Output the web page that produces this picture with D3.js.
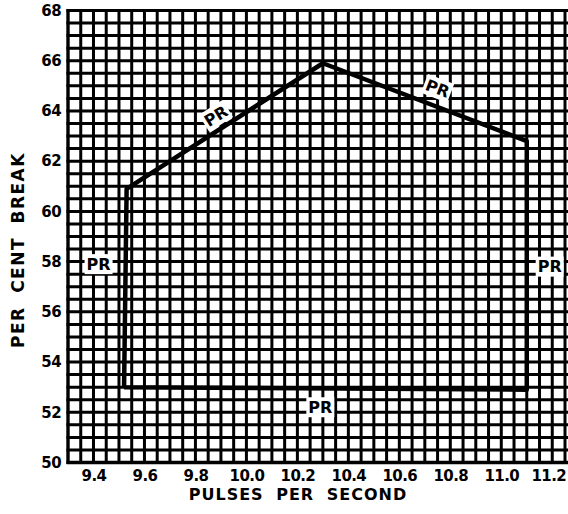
<!DOCTYPE html>
<html>
<head>
<meta charset="utf-8">
<script src="https://cdn.jsdelivr.net/npm/d3@7"></script>
<style>
  body { margin: 0; background: #fff; }
  svg { display: block; }
  text { font-family: "DejaVu Sans", sans-serif; font-weight: bold; fill: #000; }
</style>
</head>
<body>
<script>
// chart size
var width = 568, height = 514;

// data
var xTicks = [9.4, 9.6, 9.8, 10.0, 10.2, 10.4, 10.6, 10.8, 11.0, 11.2];
var xTickLabels = ["9.4", "9.6", "9.8", "10.0", "10.2", "10.4", "10.6", "10.8", "11.0", "11.2"];
var yTicks = [50, 52, 54, 56, 58, 60, 62, 64, 66, 68];

// outline of the PR region (pulses per second, per cent break)
var prX = [9.52, 9.53, 10.30, 11.10, 11.10, 9.52];
var prY = [53.0, 60.9, 65.9, 62.8, 52.9, 53.0];

// where the "PR" tags sit on each side
var tagX = [9.42, 9.88, 10.75, 11.19, 10.29];
var tagY = [57.9, 63.8, 64.9, 57.8, 52.2];
var tagAngle = [0, -32, 21, 0, 0];

// scales
var x = d3.scaleLinear().domain([9.3, 11.25]).range([68, 565]);
var y = d3.scaleLinear().domain([50, 68]).range([462.5, 10.5]);

var svg = d3.select("body").append("svg")
    .attr("width", width)
    .attr("height", height);

// graph paper grid
var gridX = d3.range(0, 40).map(function(i) { return 9.3 + i * 0.05; });
var gridY = d3.range(0, 37).map(function(i) { return 50 + i * 0.5; });

var grid = svg.append("g").attr("stroke", "#000");

grid.selectAll(".vline")
    .data(gridX)
    .enter()
    .append("line")
    .attr("x1", function(d) { return x(d); })
    .attr("x2", function(d) { return x(d); })
    .attr("y1", y(68) - 1.5)
    .attr("y2", y(50) + 1.5)
    .attr("stroke-width", function(d, i) { return i === 0 ? 3.4 : 3; });

grid.selectAll(".hline")
    .data(gridY)
    .enter()
    .append("line")
    .attr("x1", x(9.3) - 1.5)
    .attr("x2", width)
    .attr("y1", function(d) { return y(d); })
    .attr("y2", function(d) { return y(d); })
    .attr("stroke-width", function(d, i) { return i === 0 ? 3.4 : 3; });

// the PR outline
var pts = prX.map(function(d, i) { return [x(d), y(prY[i])]; });
svg.append("path")
    .attr("d", d3.line()(pts))
    .attr("fill", "none")
    .attr("stroke", "#000")
    .attr("stroke-width", 4.5)
    .attr("stroke-linejoin", "round");

// PR tags with white knock-out behind them
var tags = svg.selectAll(".tag")
    .data(tagX)
    .enter()
    .append("g")
    .attr("transform", function(d, i) {
        return "translate(" + x(d) + "," + y(tagY[i]) + ") rotate(" + tagAngle[i] + ")";
    });

tags.append("rect")
    .attr("x", -14)
    .attr("y", -10)
    .attr("width", 28)
    .attr("height", 20)
    .attr("fill", "#fff");

tags.append("text")
    .attr("text-anchor", "middle")
    .attr("dy", "0.36em")
    .style("font-size", "16px")
    .text("PR");

// x axis labels
var xAxis = svg.append("g")
    .attr("transform", "translate(0," + y(50) + ")")
    .call(d3.axisBottom(x).tickValues(xTicks).tickSize(0).tickPadding(8)
        .tickFormat(function(d, i) { return xTickLabels[i]; }));
xAxis.select(".domain").remove();
xAxis.selectAll("text")
    .style("font-family", "DejaVu Sans, sans-serif")
    .style("font-weight", "bold")
    .style("font-size", "15px")
    .style("letter-spacing", "-0.6px");
// last label sits against the right edge
xAxis.selectAll("text").filter(function(d) { return d === 11.2; })
    .attr("dx", "-4");

// y axis labels
var yAxis = svg.append("g")
    .attr("transform", "translate(" + x(9.3) + ",0)")
    .call(d3.axisLeft(y).tickValues(yTicks).tickSize(0).tickPadding(7));
yAxis.select(".domain").remove();
yAxis.selectAll("text")
    .style("font-family", "DejaVu Sans, sans-serif")
    .style("font-weight", "bold")
    .style("font-size", "15px")
    .style("letter-spacing", "-0.6px");

// x axis title
svg.append("text")
    .attr("x", 298)
    .attr("y", 500)
    .attr("text-anchor", "middle")
    .style("font-size", "16px")
    .style("letter-spacing", "1px")
    .style("word-spacing", "6px")
    .text("PULSES PER SECOND");

// y axis title
svg.append("text")
    .attr("transform", "translate(24,250) rotate(-90)")
    .attr("text-anchor", "middle")
    .style("font-size", "17px")
    .style("letter-spacing", "1.5px")
    .style("word-spacing", "6px")
    .text("PER CENT BREAK");
</script>
</body>
</html>
